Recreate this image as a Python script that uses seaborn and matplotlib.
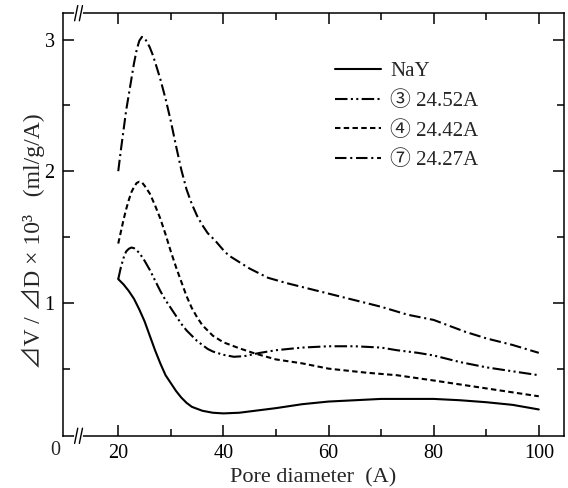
import numpy as np
import pandas as pd
import matplotlib
matplotlib.use("Agg")
import matplotlib.pyplot as plt
import matplotlib.transforms as mtransforms
import seaborn as sns

# Values
nay_x = [20, 21, 22, 23, 24, 25, 26, 27, 28, 29, 30, 31, 32, 33, 34, 35, 36, 38, 40, 43, 46, 50, 55, 60, 65, 70, 75, 80, 85, 90, 95, 100]
nay_y = [1.18, 1.14, 1.09, 1.03, 0.95, 0.86, 0.75, 0.64, 0.54, 0.45, 0.39, 0.33, 0.28, 0.24, 0.21, 0.195, 0.18, 0.165, 0.16, 0.165, 0.18, 0.20, 0.23, 0.25, 0.26, 0.27, 0.27, 0.27, 0.26, 0.245, 0.225, 0.19]

s3_x = [20, 20.5, 21, 21.5, 22, 22.5, 23, 24, 25, 26, 27, 28, 29, 30, 31, 32, 33, 34, 35, 36, 37, 38, 40, 42, 44, 47, 50, 55, 60, 65, 70, 73, 77, 80, 85, 90, 95, 100]
s3_y = [1.18, 1.27, 1.34, 1.39, 1.41, 1.42, 1.415, 1.38, 1.32, 1.25, 1.17, 1.09, 1.02, 0.96, 0.90, 0.84, 0.79, 0.75, 0.71, 0.68, 0.65, 0.63, 0.605, 0.59, 0.595, 0.62, 0.64, 0.66, 0.67, 0.67, 0.66, 0.64, 0.62, 0.60, 0.55, 0.51, 0.48, 0.45]

s4_x = [20, 20.5, 21, 21.5, 22, 22.5, 23, 23.5, 24, 24.5, 25, 26, 27, 28, 29, 30, 31, 32, 33, 34, 35, 36, 37, 38, 40, 43, 46, 50, 55, 60, 67, 73, 80, 85, 90, 95, 100]
s4_y = [1.45, 1.54, 1.63, 1.71, 1.78, 1.84, 1.88, 1.91, 1.92, 1.915, 1.89, 1.83, 1.74, 1.64, 1.52, 1.39, 1.27, 1.16, 1.05, 0.96, 0.89, 0.83, 0.79, 0.75, 0.70, 0.655, 0.615, 0.57, 0.54, 0.50, 0.47, 0.45, 0.41, 0.38, 0.35, 0.32, 0.29]

s7_x = [20, 20.5, 21, 21.5, 22, 22.5, 23, 23.5, 24, 24.5, 25, 25.5, 26, 26.5, 27, 28, 29, 30, 31, 32, 33, 34, 35, 36, 37, 38.5, 40, 41, 43, 45, 48.5, 52, 56, 60, 66, 70, 75, 80, 86, 90, 95, 100]
s7_y = [2.00, 2.16, 2.31, 2.46, 2.58, 2.70, 2.82, 2.92, 2.99, 3.02, 3.01, 2.98, 2.94, 2.89, 2.83, 2.70, 2.55, 2.38, 2.19, 2.01, 1.86, 1.75, 1.66, 1.59, 1.53, 1.47, 1.40, 1.36, 1.31, 1.26, 1.19, 1.15, 1.11, 1.07, 1.01, 0.97, 0.91, 0.87, 0.78, 0.73, 0.68, 0.62]

labels = ["NaY", "③ 24.52A", "④ 24.42A", "⑦ 24.27A"]

df = pd.concat([
    pd.DataFrame({"d": nay_x, "v": nay_y, "sample": labels[0]}),
    pd.DataFrame({"d": s3_x, "v": s3_y, "sample": labels[1]}),
    pd.DataFrame({"d": s4_x, "v": s4_y, "sample": labels[2]}),
    pd.DataFrame({"d": s7_x, "v": s7_y, "sample": labels[3]}),
])

sns.set_theme(style="ticks")
plt.rcParams["font.family"] = ["Liberation Serif", "Noto Sans CJK JP", "DejaVu Sans"]
plt.rcParams["axes.linewidth"] = 1.1

fig = plt.figure(figsize=(5.68, 4.88), dpi=100)
ax = fig.add_axes([0.111, 0.107, 0.882, 0.866])

dash_styles = {
    labels[0]: "",
    labels[1]: (6, 1.6, 1, 1.6, 1, 1.6),
    labels[2]: (2.6, 1.6),
    labels[3]: (5.5, 1.8, 1, 1.8),
}
sns.lineplot(data=df, x="d", y="v", hue="sample", style="sample",
             palette={k: "black" for k in labels}, dashes=dash_styles,
             hue_order=labels, style_order=labels,
             estimator=None, sort=False, linewidth=1.5, legend=False, ax=ax)

ax.set_xlim(9.5, 104.8)
ax.set_ylim(-0.01, 3.2)

ax.set_xticks([20, 40, 60, 80, 100])
ax.set_xticks([30, 50, 70, 90], minor=True)
ax.set_yticks([1, 2, 3])
ax.set_yticks([0.5, 1.5, 2.5], minor=True)
ax.tick_params(which="both", direction="in", top=True, right=True, colors="black", labelsize=14.5)
ax.tick_params(which="major", length=8, width=1.1, pad=6)
ax.tick_params(which="minor", length=5, width=1.1)

for s in ax.spines.values():
    s.set_visible(True)
    s.set_color("black")

ax.set_xlabel("Pore diameter  (A)", fontsize=16, labelpad=4)
ax.set_ylabel("⊿V / ⊿D × 10³   (ml/g/A)", fontsize=17)
ax.yaxis.set_label_coords(-0.036, 0.46)

ax.text(-0.006, -0.012, "0", transform=ax.transAxes, ha="right", va="top", fontsize=14.5)

# axis break marks
trans = mtransforms.blended_transform_factory(ax.transData, ax.transAxes)
for yb in (0.0, 1.0):
    ax.plot([12.0, 12.9], [yb, yb], color="white", lw=3, transform=trans, clip_on=False, zorder=5)
    for xb in (12.0, 12.9):
        ax.plot([xb - 0.3, xb + 0.3], [yb - 0.018, yb + 0.018], color="black", lw=1.0,
                transform=trans, clip_on=False, zorder=6)

handles = ax.get_lines()[:4]
ax.legend(handles, labels, loc="upper left", bbox_to_anchor=(0.505, 0.93), frameon=False,
          fontsize=15, handlelength=2.2, handletextpad=0.45, labelspacing=0.48)

fig.savefig("out.png", dpi=100)
